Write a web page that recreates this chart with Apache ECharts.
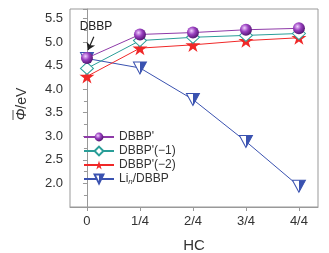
<!DOCTYPE html>
<html><head><meta charset="utf-8">
<script src="https://cdn.jsdelivr.net/npm/echarts@6/dist/echarts.min.js"></script>
<style>html,body{margin:0;padding:0;background:#fff}#c{width:329px;height:253px}</style>
</head><body><div id="c"></div>
<script>
var xLabels = ['0', '1/4', '2/4', '3/4', '4/4'];
var dbbpP = [4.66, 5.16, 5.20, 5.26, 5.29];
var dbbpM1 = [4.44, 5.03, 5.10, 5.14, 5.18];
var dbbpM2 = [4.27, 4.87, 4.94, 5.03, 5.09];
var liDbbp = [4.65, 4.45, 3.78, 2.89, 1.94];

function pts(arr){ return arr.map(function(v,i){ return [i, v]; }); }
var font = 'Liberation Sans, Arial, sans-serif';
var cP = '#8e3aa8', cT = '#2a9e98', cR = '#f02828', cB = '#3a52b0';
var star = 'path://M50,0 L61,35 L98,35 L68,57 L79,91 L50,70 L21,91 L32,57 L2,35 L39,35 Z';
var sphere = {type:'radial', x:0.38, y:0.35, r:0.7, colorStops:[{offset:0,color:'#f0d0ff'},{offset:0.45,color:'#9a40c0'},{offset:1,color:'#4a1068'}]};
var halfTri = {type:'linear', x:0, y:0, x2:1, y2:0, colorStops:[{offset:0,color:cB},{offset:0.5,color:cB},{offset:0.5,color:'#fff'},{offset:1,color:'#fff'}]};

var chart = echarts.init(document.getElementById('c'));
chart.setOption({
  animation:false,
  textStyle:{fontFamily:font},
  grid:{left:70, right:11, top:9, bottom:46, show:true, borderColor:'#999', borderWidth:1, outerBoundsMode:'none', containLabel:false},
  graphic:[{
    type:'group', x:22, y:104, rotation:Math.PI/2,
    children:[
      {type:'text', x:0, y:0, style:{text:'{i|\u03a6}/eV', fontSize:14, fontFamily:font, fill:'#333', align:'center', verticalAlign:'middle',
        rich:{i:{fontStyle:'italic', fontSize:14, fontFamily:font, fill:'#333'}}}},
      {type:'line', shape:{x1:-16, y1:-9, x2:-6, y2:-9}, style:{stroke:'#555', lineWidth:1}}
    ]
  }],
  legend:{
    orient:'vertical', left:78, top:126, itemWidth:30, itemHeight:11, itemGap:2,
    data:["DBBP'", "DBBP'(\u22121)", "DBBP'(\u22122)", 'Li_n/DBBP'],
    formatter:function(n){ return n === 'Li_n/DBBP' ? 'Li{s|n}/DBBP' : n; },
    textStyle:{fontFamily:font, fontSize:12, color:'#333', rich:{s:{fontSize:8, fontStyle:'italic', verticalAlign:'bottom', padding:[6,0,0,0], color:'#333'}}}
  },
  xAxis:{
    type:'value', min:-0.32, max:4.36,
    name:'HC', nameLocation:'middle', nameGap:31,
    nameTextStyle:{fontSize:15, color:'#333', fontFamily:font},
    axisLine:{lineStyle:{color:'#999'}},
    axisTick:{customValues:[0,1,2,3,4], length:4, lineStyle:{color:'#999'}},
    axisLabel:{customValues:[0,1,2,3,4], fontSize:13, color:'#333', margin:8, formatter:function(v){ return xLabels[Math.round(v)]; }},
    splitLine:{show:false}
  },
  yAxis:{
    type:'value', min:1.5, max:5.7, interval:0.5,
    axisLine:{lineStyle:{color:'#999'}},
    axisTick:{length:4, lineStyle:{color:'#999'}},
    minorTick:{show:true, splitNumber:2, length:3, lineStyle:{color:'#999'}},
    axisLabel:{fontSize:13, color:'#333', margin:7, showMinLabel:false, showMaxLabel:false, formatter:function(v){ return v.toFixed(1); }},
    splitLine:{show:false}
  },
  series:[
    {name:'Li_n/DBBP', type:'line', data:pts(liDbbp), z:2, symbol:'triangle', symbolRotate:180, symbolSize:[13,12],
      lineStyle:{color:cB, width:1}, itemStyle:{color:halfTri, borderColor:cB, borderWidth:1}},
    {name:"DBBP'(\u22122)", type:'line', data:pts(dbbpM2), z:3, symbol:star, symbolSize:15, symbolKeepAspect:true,
      lineStyle:{color:cR, width:1}, itemStyle:{color:cR, borderWidth:0}},
    {name:"DBBP'(\u22121)", type:'line', data:pts(dbbpM1), z:4, symbol:'diamond', symbolSize:[13,12],
      lineStyle:{color:cT, width:1}, itemStyle:{color:'#fff', borderColor:cT, borderWidth:1}},
    {name:"DBBP'", type:'line', data:pts(dbbpP), z:5, symbol:'circle', symbolSize:12,
      lineStyle:{color:cP, width:1}, itemStyle:{color:sphere, borderWidth:0},
      markLine:{silent:true, symbol:['none','arrow'], symbolSize:7,
        lineStyle:{color:'#222', width:1.2, type:'solid'}, label:{show:false},
        data:[[{coord:[0.13, 5.11]}, {coord:[0.02, 4.83]}]]},
      markPoint:{silent:true, symbol:'circle', symbolSize:0,
        label:{show:true, position:'inside', formatter:'DBBP', fontSize:12, color:'#222', fontFamily:font},
        data:[{coord:[0.17, 5.33]}]}}
  ]
});
</script></body></html>
